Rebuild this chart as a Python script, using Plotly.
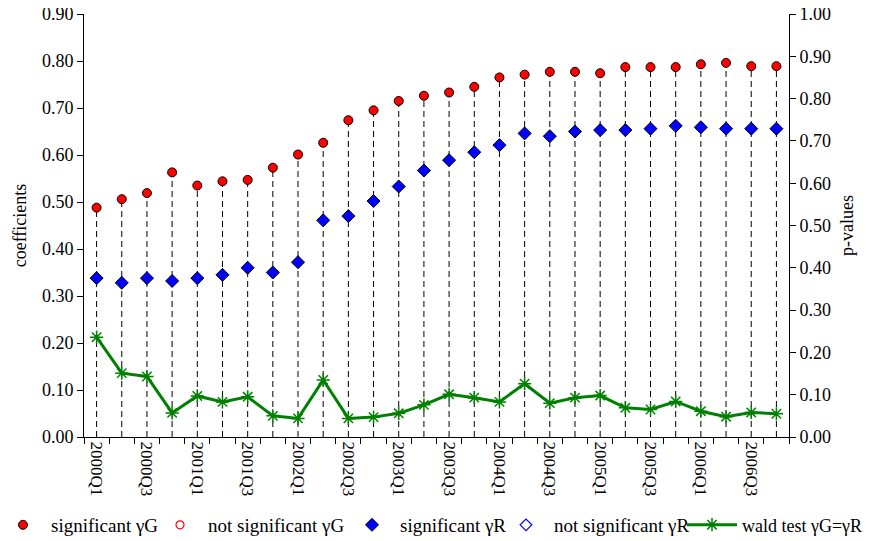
import plotly.graph_objects as go

quarters = [f"{y}Q{q}" for y in range(2000, 2007) for q in range(1, 5)]

gamma_G = [0.488, 0.506, 0.519, 0.563, 0.535, 0.544, 0.547, 0.573, 0.601, 0.626,
           0.674, 0.695, 0.715, 0.726, 0.733, 0.745, 0.765, 0.771, 0.777, 0.777,
           0.774, 0.787, 0.787, 0.787, 0.793, 0.796, 0.789, 0.789]
gamma_R = [0.338, 0.328, 0.338, 0.332, 0.338, 0.345, 0.360, 0.350, 0.372, 0.461,
           0.470, 0.502, 0.533, 0.567, 0.589, 0.606, 0.621, 0.646, 0.640, 0.650,
           0.653, 0.653, 0.656, 0.662, 0.659, 0.656, 0.656, 0.656]
wald_p = [0.236, 0.151, 0.143, 0.057, 0.097, 0.083, 0.095, 0.050, 0.044, 0.135,
          0.044, 0.047, 0.056, 0.076, 0.101, 0.093, 0.083, 0.126, 0.080, 0.093,
          0.098, 0.069, 0.065, 0.084, 0.061, 0.048, 0.058, 0.055]

idx = list(range(len(quarters)))

# drop lines from 0 up to gamma_G
dx, dy = [], []
for i, g in zip(idx, gamma_G):
    dx += [i, i, None]
    dy += [0, g, None]

FONT = "Liberation Serif"
FS = 18
LFS = 19

fig = go.Figure()
fig.add_trace(go.Scatter(x=dx, y=dy, mode="lines", showlegend=False, hoverinfo="skip",
                         line=dict(color="black", width=1, dash="6px,4px")))
fig.add_trace(go.Scatter(x=idx, y=gamma_G, mode="markers", name="significant γG",
                         legend="legend",
                         marker=dict(symbol="circle", size=9, color="#ff0000",
                                     line=dict(color="black", width=1))))
fig.add_trace(go.Scatter(x=[None], y=[None], mode="markers", name="not significant γG",
                         legend="legend2",
                         marker=dict(symbol="circle-open", size=8, color="#ff0000",
                                     line=dict(color="#ff0000", width=1.2))))
fig.add_trace(go.Scatter(x=idx, y=gamma_R, mode="markers", name="significant γR",
                         legend="legend3",
                         marker=dict(symbol="diamond", size=10, color="#0000ff",
                                     line=dict(color="black", width=1))))
fig.add_trace(go.Scatter(x=[None], y=[None], mode="markers", name="not significant γR",
                         legend="legend4",
                         marker=dict(symbol="diamond-open", size=9, color="#0000ff",
                                     line=dict(color="#0000ff", width=1.2))))
fig.add_trace(go.Scatter(x=idx, y=wald_p, mode="lines+markers", name="wald test γG=γR",
                         yaxis="y2", legend="legend5",
                         line=dict(color="#008000", width=3),
                         marker=dict(symbol="asterisk-open", size=11, color="#008000",
                                     line=dict(color="#008000", width=1.5))))

# the page body adds an 8px offset; figure is sized/margined to compensate
W, H = 864, 533
ML, MT, PW, PH = 76, 6, 705, 423


def leg(px, w, size=LFS):
    return dict(orientation="h", x=(px - ML) / PW, xanchor="left",
                y=-0.208, yanchor="middle",
                font=dict(family=FONT, size=size, color="black"), itemwidth=w,
                bgcolor="rgba(0,0,0,0)")


fig.update_layout(
    width=W, height=H,
    margin=dict(l=ML, r=W - ML - PW, t=MT, b=H - MT - PH, autoexpand=False),
    paper_bgcolor="white", plot_bgcolor="white",
    font=dict(family=FONT, size=FS, color="black"),
    xaxis=dict(range=[-0.5, len(quarters) - 0.5], tickmode="array",
               tickvals=idx[::2], ticktext=quarters[::2], tickangle=90,
               ticks="", showgrid=False, zeroline=False,
               showline=True, linecolor="black", linewidth=1,
               tickfont=dict(family=FONT, size=17),
               minor=dict(tickmode="array", tickvals=[i - 0.5 for i in idx] + [idx[-1] + 0.5],
                          ticks="outside", ticklen=6, tickcolor="black", showgrid=False)),
    yaxis=dict(range=[0, 0.9], tickmode="array",
               tickvals=[i / 10 for i in range(10)], tickformat=".2f",
               ticks="outside", ticklen=6, tickcolor="black", ticklabeloverflow="allow",
               tickfont=dict(family=FONT, size=FS),
               showgrid=False, zeroline=False, showline=True, linecolor="black", linewidth=1,
               title=dict(text="coefficients", standoff=10, font=dict(family=FONT, size=FS))),
    yaxis2=dict(range=[0, 1.0], overlaying="y", side="right", tickmode="array",
                tickvals=[i / 10 for i in range(11)], tickformat=".2f",
                ticks="outside", ticklen=6, tickcolor="black", ticklabeloverflow="allow",
                tickfont=dict(family=FONT, size=FS),
                showgrid=False, zeroline=False, showline=True, linecolor="black", linewidth=1,
                title=dict(text="p-values", standoff=10, font=dict(family=FONT, size=FS))),
    legend=leg(-13, 46),
    legend2=leg(144, 46),
    legend3=leg(336, 46),
    legend4=leg(490, 46),
    legend5=leg(674, 50, 18),
)

fig.write_html("out.html")
